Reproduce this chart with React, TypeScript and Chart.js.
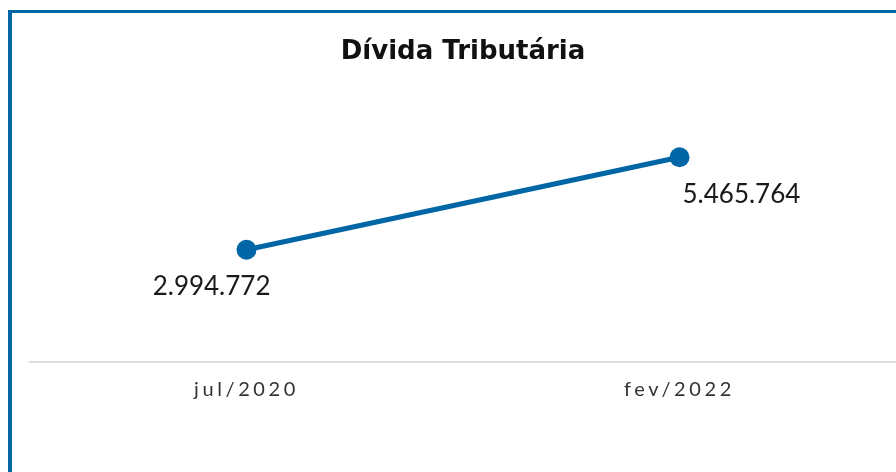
import React, { useEffect, useRef } from "react";
import { Chart, registerables } from "chart.js";

Chart.register(...registerables);

const categories = ["jul/2020", "fev/2022"];
const values = [2994772, 5465764];
const valueLabels = ["2.994.772", "5.465.764"];
const chartTitle = "Dívida Tributária";

const BLUE = "#0066a6";

const labelPlugin = {
  id: "customLabels",
  afterDraw(chart: any) {
    const ctx = chart.ctx;
    const meta = chart.getDatasetMeta(0);
    const xScale = chart.scales.x;
    ctx.save();
    ctx.font = "26px Lato, 'Open Sans', sans-serif";
    ctx.fillStyle = "#1a1a1a";
    ctx.textBaseline = "middle";
    meta.data.forEach((pt: any, i: number) => {
      if (i === 0) {
        ctx.textAlign = "right";
        ctx.fillText(valueLabels[i], pt.x + 24, pt.y + 37);
      } else {
        ctx.textAlign = "left";
        ctx.fillText(valueLabels[i], pt.x + 3, pt.y + 37);
      }
    });
    ctx.font = "20px Lato, 'Open Sans', sans-serif";
    ctx.fillStyle = "#333333";
    (ctx as any).letterSpacing = "3.6px";
    ctx.textAlign = "center";
    categories.forEach((c, i) => {
      const x = xScale.getPixelForTick(i);
      ctx.fillText(c, x, chart.chartArea.bottom + 28);
    });
    ctx.restore();
  },
};

export default function App() {
  const ref = useRef<HTMLCanvasElement>(null);
  useEffect(() => {
    if (!ref.current) return;
    const chart = new Chart(ref.current, {
      type: "line",
      data: {
        labels: categories,
        datasets: [
          {
            data: values,
            borderColor: BLUE,
            backgroundColor: BLUE,
            borderWidth: 5,
            pointRadius: 10,
            pointHoverRadius: 10,
            pointBorderWidth: 0,
            pointBackgroundColor: BLUE,
            tension: 0,
          },
        ],
      },
      options: {
        animation: false,
        responsive: false,
        maintainAspectRatio: false,
        layout: { autoPadding: false, padding: { left: 30, right: 0, top: 0, bottom: 110 } },
        plugins: {
          legend: { display: false },
          tooltip: { enabled: false },
          title: {
            display: true,
            text: chartTitle,
            color: "#111111",
            font: { family: "'DejaVu Sans', sans-serif", size: 26, weight: "bold", lineHeight: 1.2 },
            padding: { top: 37, bottom: 69 },
          },
        },
        scales: {
          x: {
            offset: true,
            grid: { display: false, drawTicks: false },
            border: { display: true, color: "#dddddd", width: 2 },
            ticks: { display: false },
          },
          y: {
            display: false,
            min: 0,
            max: 6000000,
          },
        },
      },
      plugins: [labelPlugin],
    });
    return () => chart.destroy();
  }, []);
  return (
    <div style={{ position: "absolute", left: 0, top: 0, width: 896, height: 472, overflow: "hidden", background: "#fff" }}>
      <div
        style={{
          position: "absolute",
          left: 8,
          top: 10,
          width: 900,
          height: 480,
          borderTop: `3px solid ${BLUE}`,
          borderLeft: `4px solid ${BLUE}`,
        }}
      />
      <canvas ref={ref} width={896} height={472} style={{ position: "absolute", left: 0, top: 0 }} />
    </div>
  );
}
